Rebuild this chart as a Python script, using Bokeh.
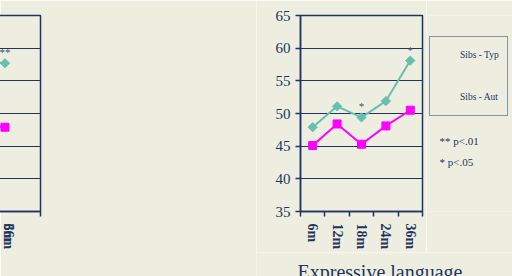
import math
from bokeh.plotting import figure
from bokeh.models import (Range1d, LinearAxis, CategoricalAxis, FixedTicker, Legend, LegendItem,
                          Title, Label, ColumnDataSource, CustomJSTickFormatter)
from bokeh.layouts import row, column
from bokeh.embed import file_html
from bokeh.resources import INLINE
from bokeh.core.properties import value

months = ["6m", "12m", "18m", "24m", "36m"]
y_ticks = [35, 40, 45, 50, 55, 60, 65]
rec_typ = [50.0, 48.2, 51.2, 58.7, 57.7]
rec_aut = [51.3, 46.7, 42.9, 49.0, 47.9]
exp_typ = [47.9, 51.1, 49.4, 51.9, 58.1]
exp_aut = [45.1, 48.4, 45.3, 48.1, 50.5]
rec_sig = ["", "", "**", "**", "**"]
exp_sig = ["", "", "*", "", "*"]
titles = ["Receptive language", "Expressive language"]
series_labels = ["Sibs - Typ", "Sibs - Aut"]
notes = ["** p<.01", "* p<.05"]

BG = "#EDEEE0"
NAVY = "#1F3560"
TEAL = "#66BFAF"
MAG = "#FF00FF"
SERIF = "Liberation Serif"

LEG_STYLE = dict(padding=8, spacing=22, glyph_width=20, glyph_height=20, label_height=20,
                 label_standoff=2, border_line_color=NAVY, border_line_width=1.5,
                 background_fill_alpha=0, label_text_font=SERIF, label_text_font_size="9.5px",
                 label_text_color=NAVY)


def draw_series(p, src, x, typ, aut):
    l1 = p.line(x, typ, source=src, line_color=TEAL, line_width=2)
    s1 = p.scatter(x, typ, source=src, marker="square", angle=math.pi / 4, size=6.5,
                   fill_color=TEAL, line_color=TEAL)
    l2 = p.line(x, aut, source=src, line_color=MAG, line_width=2)
    s2 = p.scatter(x, aut, source=src, marker="square", size=8, fill_color=MAG, line_color=MAG)
    return [LegendItem(label=series_labels[0], renderers=[l1, s1]),
            LegendItem(label=series_labels[1], renderers=[l2, s2])]


def chart(typ, aut, sig, width, height, bl, br, bb, title=None, title_offset=0, legend=False):
    p = figure(width=width, height=height, x_range=months,
               y_range=Range1d(y_ticks[0], y_ticks[-1]), output_backend="svg",
               toolbar_location=None, x_axis_location=None, y_axis_location=None,
               min_border_left=bl, min_border_right=br, min_border_top=15, min_border_bottom=bb)
    p.background_fill_color = BG
    p.border_fill_color = BG
    p.outline_line_color = NAVY
    p.outline_line_width = 1.5
    p.xgrid.visible = False
    p.ygrid.ticker = FixedTicker(ticks=y_ticks)
    p.ygrid.grid_line_color = NAVY
    p.ygrid.grid_line_width = 1

    p.add_layout(LinearAxis(ticker=FixedTicker(ticks=y_ticks), axis_line_color=NAVY,
                            axis_line_width=1.5, major_tick_line_color=NAVY,
                            major_tick_line_width=1.5, major_tick_out=5, major_tick_in=0,
                            minor_tick_line_color=None, major_label_standoff=5,
                            major_label_text_font=SERIF, major_label_text_font_size="15px",
                            major_label_text_color=NAVY), "left")
    p.add_layout(LinearAxis(ticker=FixedTicker(ticks=list(range(len(months) + 1))),
                            axis_line_color=NAVY, axis_line_width=1.5, major_tick_line_color=NAVY,
                            major_tick_line_width=1.5, major_tick_out=5, major_tick_in=0,
                            minor_tick_line_color=None, major_label_standoff=0,
                            major_label_text_font_size="1px",
                            formatter=CustomJSTickFormatter(code="return ''")), "below")
    p.add_layout(CategoricalAxis(axis_line_color=None, major_tick_line_color=None,
                                 major_tick_out=0, major_tick_in=0, major_label_standoff=7,
                                 major_label_orientation="vertical", major_label_text_font=SERIF,
                                 major_label_text_font_style="bold",
                                 major_label_text_font_size="14px",
                                 major_label_text_color=NAVY), "below")
    if title is not None:
        p.add_layout(Title(text=title, align="left", offset=title_offset, standoff=0,
                           text_font=SERIF, text_font_size="20px", text_font_style="normal",
                           text_color=NAVY), "below")

    src = ColumnDataSource(dict(m=months, typ=typ, aut=aut, sig=sig))
    items = draw_series(p, src, "m", "typ", "aut")
    p.text("m", "typ", text="sig", source=src, y_offset=-11, text_align="center",
           text_baseline="alphabetic", text_font=value(SERIF), text_font_size="11px",
           text_color="#3D4F70")
    if legend:
        p.add_layout(Legend(items=items, location="center_left", margin=6, **LEG_STYLE), "right")
    return p


def blank(width, height):
    f = figure(width=width, height=height, x_range=Range1d(0, 1), y_range=Range1d(0, 1),
               output_backend="svg", toolbar_location=None, min_border=0, title=None,
               x_axis_location=None, y_axis_location=None)
    f.background_fill_color = BG
    f.border_fill_color = BG
    f.outline_line_color = None
    f.xgrid.visible = False
    f.ygrid.visible = False
    return f


# left chart: complete figure with its legend in the right-hand panel
p1 = chart(rec_typ, rec_aut, rec_sig, 256, 276, 40, 93, 64, titles[0], -22, legend=True)

# right chart: plot, then a side strip for legend and notes, then a strip for the title
p2 = chart(exp_typ, exp_aut, exp_sig, 170, 252, 44, 4, 40)

side = blank(86, 252)
proxy = ColumnDataSource(dict(x=[], typ=[], aut=[]))
side_items = draw_series(side, proxy, "x", "typ", "aut")
side.add_layout(Legend(items=side_items, location=(3, 95), margin=0, **LEG_STYLE))
for t, cy in zip(notes, [71, 50]):
    side.add_layout(Label(x=13, y=cy, x_units="screen", y_units="screen", text=t,
                          text_align="left", text_baseline="middle", text_font=SERIF,
                          text_font_size="11px", text_color=NAVY))

title_strip = blank(256, 24)
title_strip.add_layout(Label(x=41, y=5, x_units="screen", y_units="screen", text=titles[1],
                             text_align="left", text_baseline="alphabetic", text_font=SERIF,
                             text_font_size="20px", text_color=NAVY))

layout = row(p1, column(row(p2, side), title_strip))
open("out.html", "w").write(file_html(layout, INLINE))
